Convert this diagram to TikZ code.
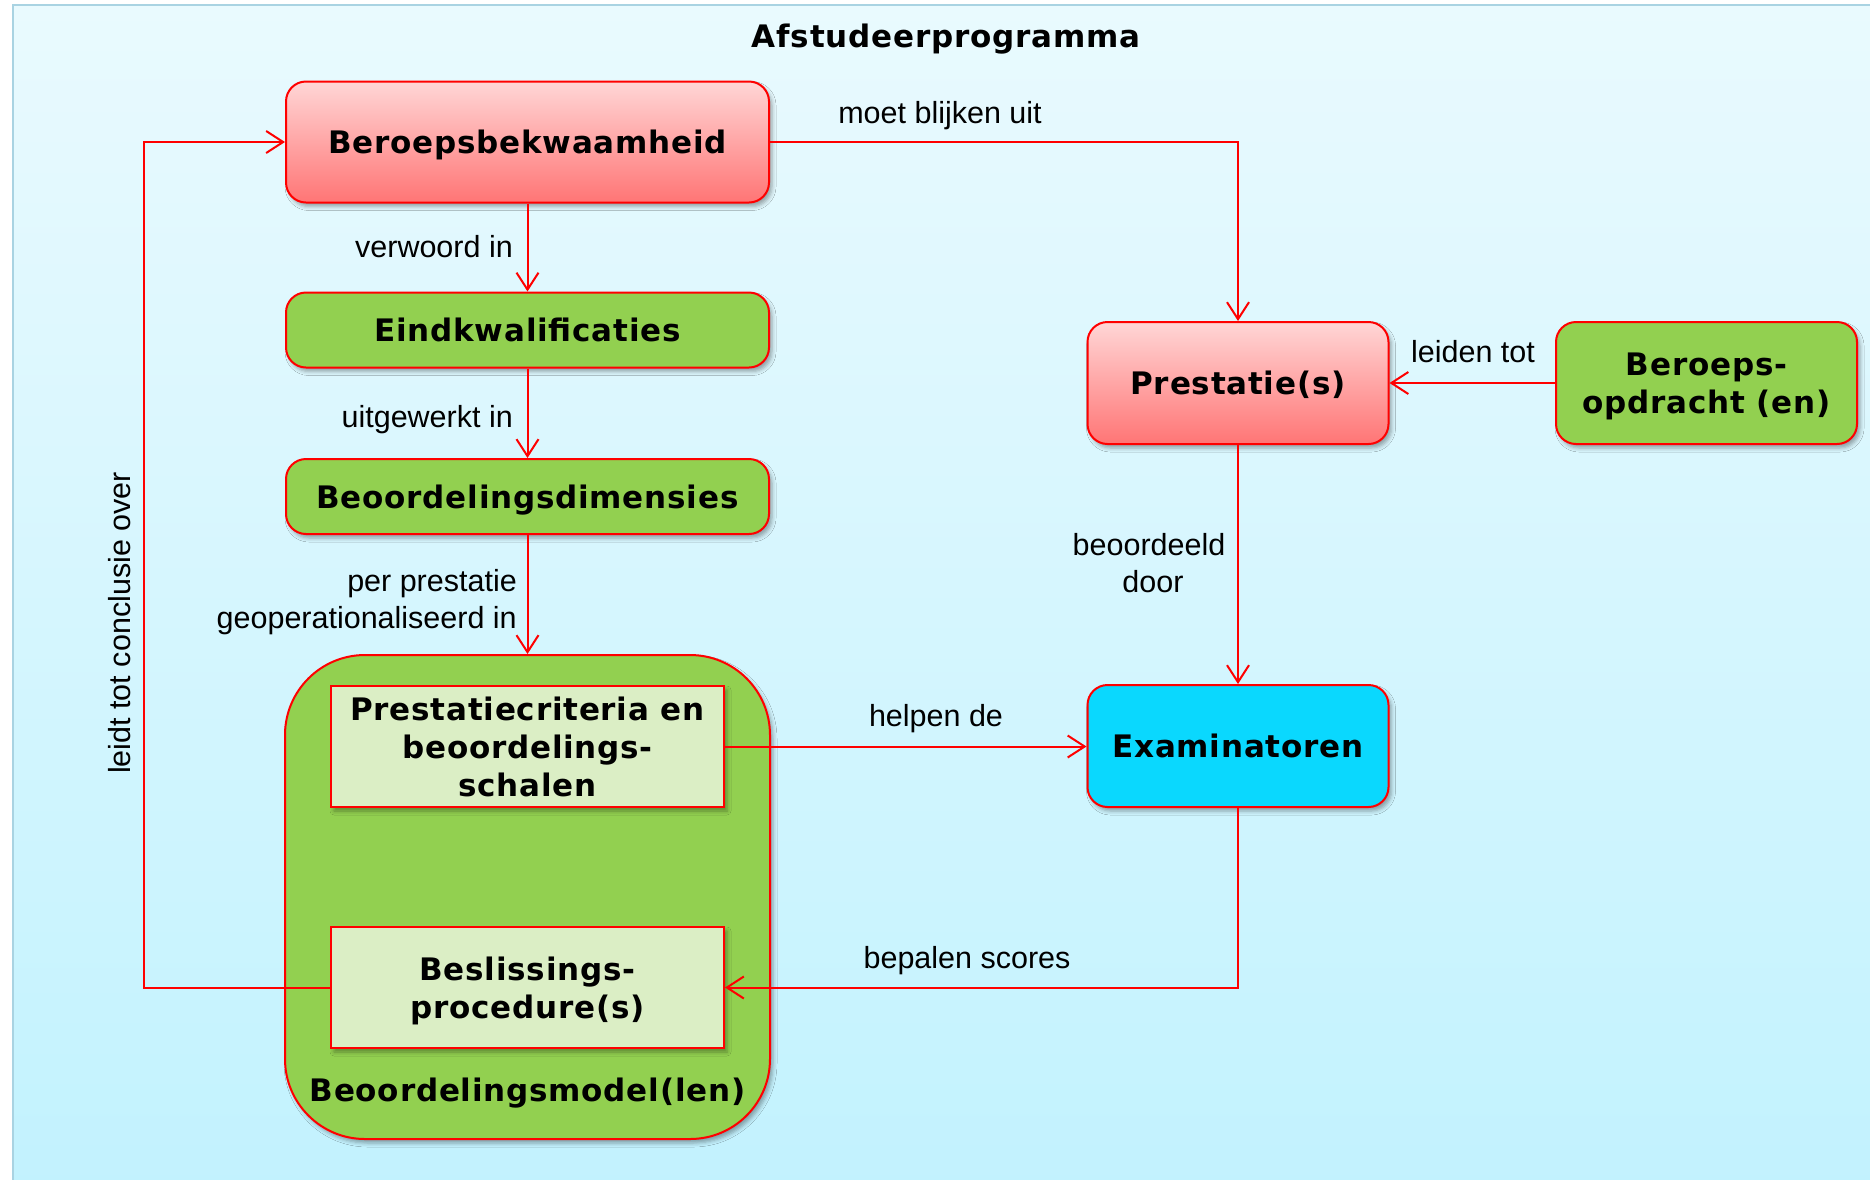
\documentclass[tikz,border=0pt]{standalone}
\usepackage{fontspec}
\newfontfamily\boxfont{DejaVu Sans}[LetterSpace=2.5]
\newfontfamily\lblfont{Liberation Sans}
\usetikzlibrary{arrows.meta,shadows.blur}
\definecolor{bgtop}{HTML}{E9FAFE}
\definecolor{bgbot}{HTML}{C2F2FE}
\definecolor{frameblue}{HTML}{A9D3E2}
\definecolor{redtop}{HTML}{FFD6D6}
\definecolor{redbot}{HTML}{FF7575}
\definecolor{boxgreen}{HTML}{92D050}
\definecolor{lightgreen}{HTML}{DBEEC5}
\definecolor{boxcyan}{HTML}{0AD8FE}
\definecolor{linered}{HTML}{FF0000}
\tikzset{
  shad/.style={blur shadow={shadow xshift=3pt,shadow yshift=-4pt,shadow blur radius=4pt,shadow opacity=35}},
  boxtext/.style={font=\boxfont\bfseries\fontsize{31}{38}\selectfont},
  basebox/.style={draw=linered,line width=2pt,shad,boxtext,align=center,inner sep=0pt,text=black,text depth=0pt},
  redbox/.style={basebox,rounded corners=20pt,top color=redtop,bottom color=redbot},
  greenbox/.style={basebox,rounded corners=20pt,fill=boxgreen},
  cyanbox/.style={basebox,rounded corners=20pt,fill=boxcyan},
  sqbox/.style={basebox,fill=lightgreen},
  lbl/.style={font=\lblfont\fontsize{30.5}{37}\selectfont,inner sep=0pt,text=black},
  arr/.style={draw=linered,line width=2pt,-{Straight Barb[length=17pt,width=22pt,line width=2pt]}},
}
\begin{document}
\begin{tikzpicture}[x=1pt,y=-1pt]
\useasboundingbox (0,0) rectangle (1870,1179);
% background
\fill[white] (0,0) rectangle (1870,1179);
\path[top color=bgtop,bottom color=bgbot,draw=frameblue,line width=2pt] (13,5) rectangle (1880,1190);
% title
\node[boxtext,anchor=base,inner sep=0pt] (title) at (946,47) {Afstudeerprogramma};
% big model
\node[basebox,fill=boxgreen,rounded corners=80pt,minimum width=485pt,minimum height=484pt] (M) at (527.5,897) {};
\node[boxtext,anchor=base,inner sep=0pt] (Mlbl) at (527.5,1101) {Beoordelingsmodel(len)};
% boxes
\node[redbox,minimum width=483pt,minimum height=121pt] (B) at (527.5,142) {Beroepsbekwaamheid};
\node[greenbox,minimum width=483pt,minimum height=75pt] (E) at (527.5,330) {Eindkwalificaties};
\node[greenbox,minimum width=483pt,minimum height=75pt] (D) at (527.5,496.5) {Beoordelingsdimensies};
\node[sqbox,minimum width=393pt,minimum height=121pt] (PC) at (527.5,746.5) {Prestatiecriteria en\\beoordelings-\\schalen};
\node[sqbox,minimum width=393pt,minimum height=121pt] (BS) at (527.5,987.5) {Beslissings-\\procedure(s)};
\node[redbox,minimum width=301pt,minimum height=122pt] (P) at (1238,383) {Prestatie(s)};
\node[greenbox,minimum width=301pt,minimum height=122pt] (BO) at (1706.5,383) {Beroeps-\\opdracht (en)};
\node[cyanbox,minimum width=301pt,minimum height=122pt] (X) at (1238,746) {Examinatoren};
% coordinates
\coordinate (L1) at (144,987.5);
\coordinate (L2) at (144,142);
% connectors
\draw[arr] (B.east) -| (P.north);
\draw[arr] (B.south) -- (E.north);
\draw[arr] (E.south) -- (D.north);
\draw[arr] (D.south) -- (M.north);
\draw[arr] (BO.west) -- (P.east);
\draw[arr] (P.south) -- (X.north);
\draw[arr] (PC.east) -- (PC.east -| X.west);
\draw[arr] (X.south) |- (BS.east);
\draw[arr] (BS.west) -- (L1) -- (L2) -- (B.west);
% labels
\node[lbl,anchor=base] (t1) at (940,123) {moet blijken uit};
\node[lbl,anchor=base east] (t2) at (513,257) {verwoord in};
\node[lbl,anchor=base east] (t3) at (513,427) {uitgewerkt in};
\node[lbl,anchor=base east] (t4) at (517,591) {per prestatie};
\node[lbl,anchor=base east] (t5) at (517,628) {geoperationaliseerd in};
\node[lbl,anchor=base,rotate=90] (t6) at (130,623) {leidt tot conclusie over};
\node[lbl,anchor=base] (t7) at (1473,362) {leiden tot};
\node[lbl,anchor=base] (t8) at (1149,555) {beoordeeld};
\node[lbl,anchor=base] (t9) at (1153,592) {door};
\node[lbl,anchor=base] (t10) at (936,726) {helpen de};
\node[lbl,anchor=base] (t11) at (967,968) {bepalen scores};
\end{tikzpicture}
\end{document}
